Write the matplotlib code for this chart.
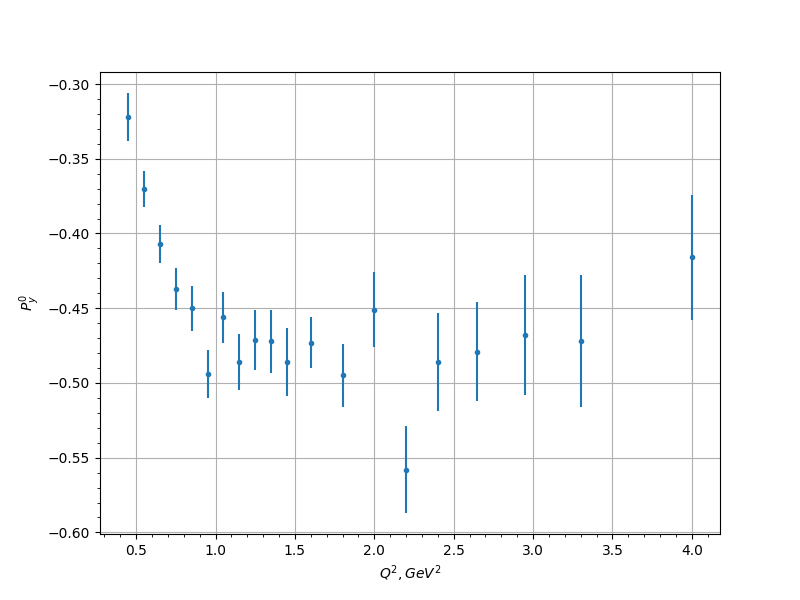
import numpy as np
import matplotlib
matplotlib.use('Agg')
import matplotlib.pyplot as plt

q2 = [0.45, 0.55, 0.65, 0.75, 0.85, 0.95, 1.05, 1.15, 1.25, 1.35, 1.45,
      1.6, 1.8, 2.0, 2.2, 2.4, 2.65, 2.95, 3.3, 4.0]
py0 = [-0.322, -0.370, -0.407, -0.437, -0.450, -0.494, -0.456, -0.486, -0.471, -0.472, -0.486,
       -0.473, -0.495, -0.451, -0.558, -0.486, -0.479, -0.468, -0.472, -0.416]
err = [0.016, 0.012, 0.013, 0.014, 0.015, 0.016, 0.017, 0.019, 0.020, 0.021, 0.023,
       0.017, 0.021, 0.025, 0.029, 0.033, 0.033, 0.040, 0.044, 0.042]

fig, ax = plt.subplots(figsize=(8, 6), dpi=100)
ax.errorbar(q2, py0, yerr=err, fmt='o', markersize=3, color='#1f77b4')
ax.set_xlabel(r'$Q^2, GeV^2$')
ax.set_ylabel(r'$P^0_y$')
ax.minorticks_on()
ax.grid(True, which='major')
plt.savefig('out.png', dpi=100)
